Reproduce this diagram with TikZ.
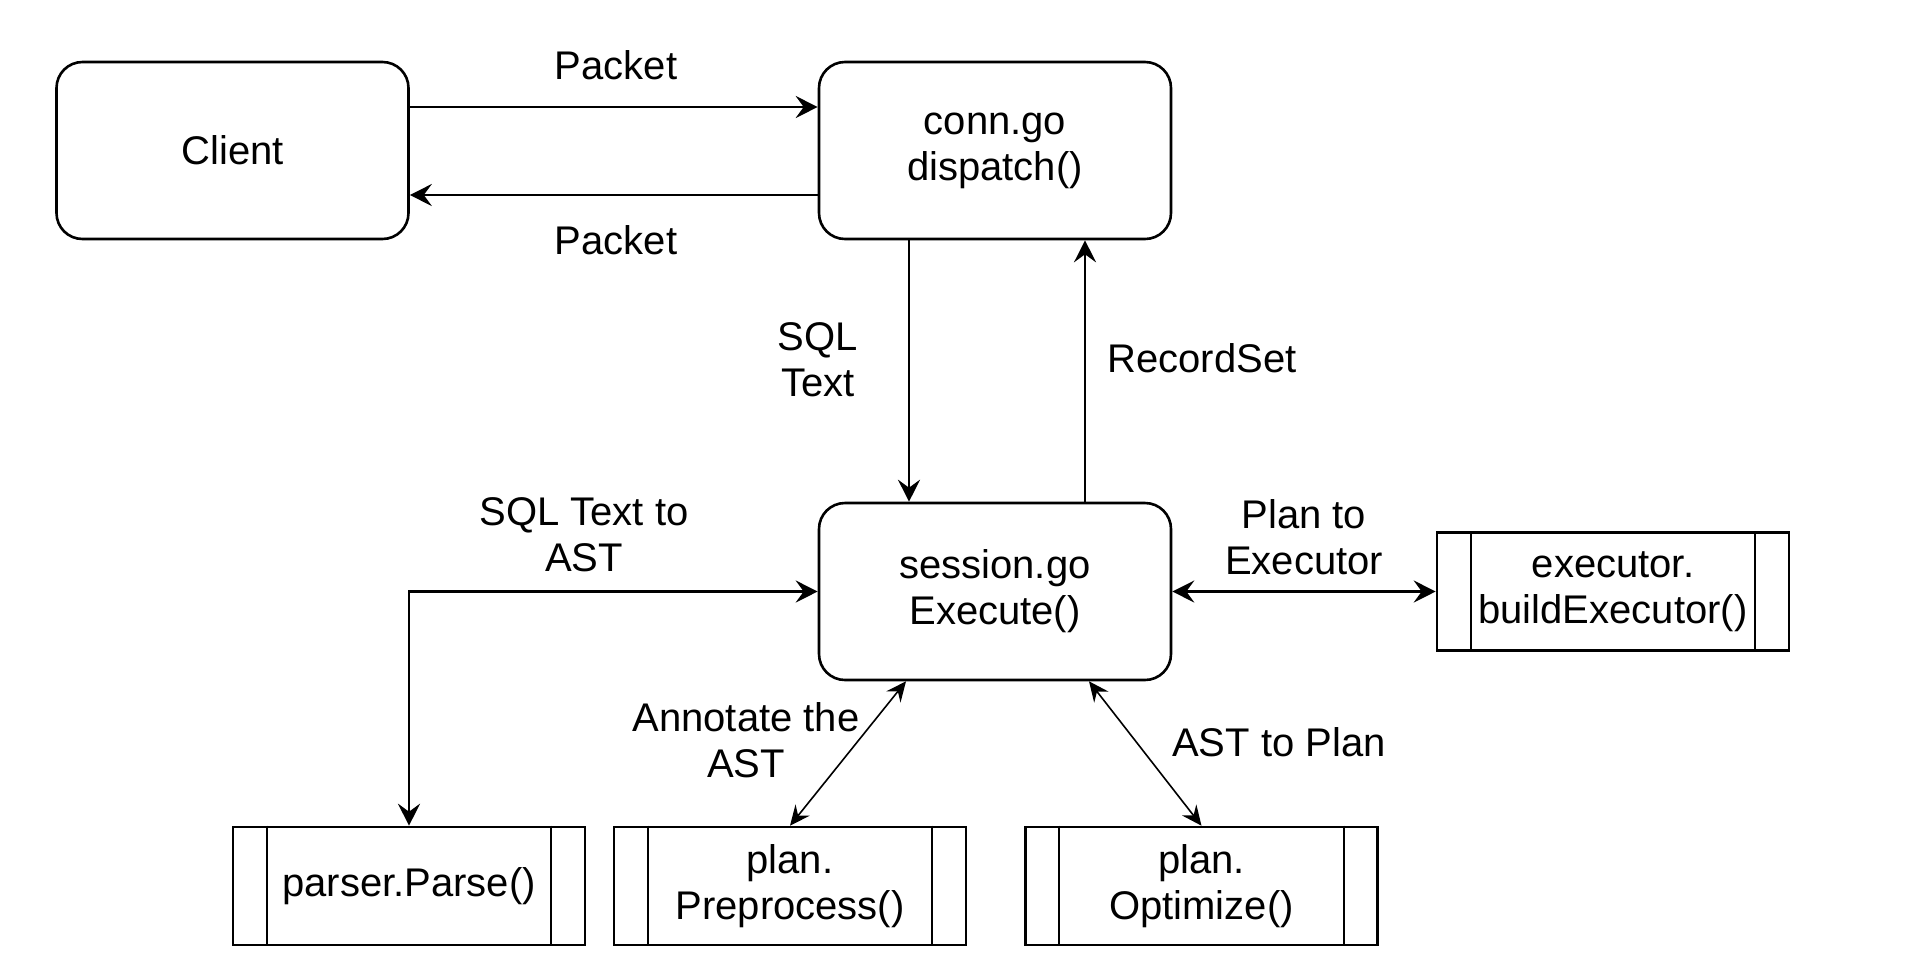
\documentclass[tikz,border=0pt]{standalone}
\usepackage{fontspec}
\setmainfont{Liberation Sans}
\usetikzlibrary{arrows.meta}
\begin{document}
\begin{tikzpicture}[x=0.5pt,y=-0.5pt,
  every node/.style={font=\fontsize{20}{23}\selectfont, align=center, inner sep=0pt},
  rbox/.style={draw, line width=1.3pt, rounded corners=13pt, minimum width=176pt, minimum height=88.5pt},
  pbox/.style={draw, line width=1.3pt, minimum width=176pt, minimum height=59pt},
  arr/.style={line width=1.2pt, -{Stealth[length=11pt,width=11pt,inset=4pt]}},
  darr/.style={line width=1.2pt, {Stealth[length=11pt,width=11pt,inset=4pt]}-{Stealth[length=11pt,width=11pt,inset=4pt]}},
  thinarr/.style={line width=0.8pt, {Stealth[length=10pt,width=9pt,inset=3.5pt]}-{Stealth[length=10pt,width=9pt,inset=3.5pt]}},
  inner/.style={line width=1pt}
]
\fill[white] (0,0) rectangle (1906,970);
\useasboundingbox (0,0) rectangle (1906,970);

% boxes
\node[rbox] (client) at (232.5,150.5) {Client};
\node[rbox] (conn) at (995,150.5) {conn.go\\dispatch()};
\node[rbox] (session) at (995,591.5) {session.go\\Execute()};
\node[pbox] (parser) at (409,886) {parser.Parse()};
\node[pbox] (preprocess) at (790,886) {plan.\\Preprocess()};
\node[pbox] (optimize) at (1201.5,886) {plan.\\Optimize()};
\node[pbox] (executor) at (1613,591.5) {executor.\\buildExecutor()};

\foreach \n in {parser,preprocess,optimize,executor} {
  \draw[inner] ([xshift=17.5pt]\n.north west) -- ([xshift=17.5pt]\n.south west);
  \draw[inner] ([xshift=-17.5pt]\n.north east) -- ([xshift=-17.5pt]\n.south east);
}

% connectors
\draw[arr] (client.east |- 0,107) -- (conn.west |- 0,107);
\draw[arr] (conn.west |- 0,195) -- (client.east |- 0,195);
\draw[arr] (conn.south -| 909,0) -- (session.north -| 909,0);
\draw[arr] (session.north -| 1085,0) -- (conn.south -| 1085,0);
\draw[darr] (parser.north) |- (session.west);
\draw[darr] (session.east) -- (executor.west);
\draw[thinarr] (session.south -| 906,0) -- (preprocess.north);
\draw[thinarr] (session.south -| 1089,0) -- (optimize.north);

% labels
\node (lpacket1) at (616,65) {Packet};
\node (lpacket2) at (616,240) {Packet};
\node (lsql) at (818,360) {SQL\\Text};
\node (lrec) at (1202,358) {RecordSet};
\node (last) at (584,535) {SQL Text to\\AST};
\node (lplan) at (1304,537) {Plan to\\Executor};
\node (lann) at (746,740) {Annotate the\\AST};
\node (lopt) at (1279,742) {AST to Plan};
\end{tikzpicture}
\end{document}
